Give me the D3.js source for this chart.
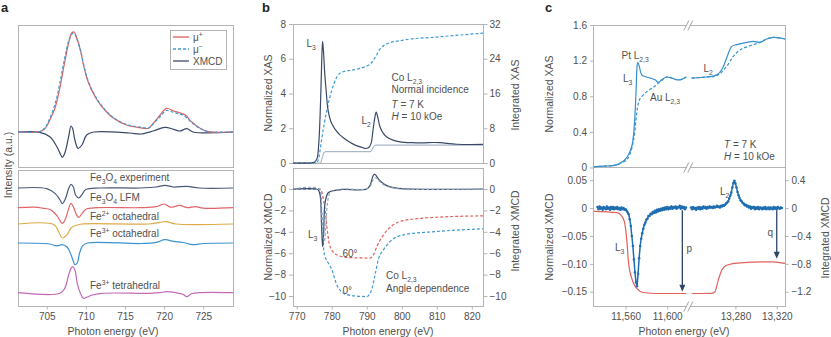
<!DOCTYPE html>
<html><head><meta charset="utf-8">
<script src="https://cdn.jsdelivr.net/npm/d3@7"></script>
<style>
body{margin:0;background:#fff;}
svg text{font-family:"Liberation Sans",Arial,Helvetica,sans-serif;}
</style></head><body>
<svg id="chart" width="831" height="337"></svg>
<script>
// ---------------- DATA ----------------
// Panel a (upper): XAS mu+, mu- and XMCD  [energy eV, intensity a.u.]
const aMuPlus = [[701.33,0],[704.1,0.003],[704.8,0.037],[705.4,0.12],[706.1,0.25],[706.7,0.45],[707.3,0.70],[707.8,0.89],[708.2,0.99],[708.5,1.0],[708.8,0.95],[709.3,0.82],[709.7,0.67],[710.3,0.50],[711.2,0.35],[712.2,0.24],[713.5,0.14],[715.2,0.07],[716.9,0.043],[718,0.037],[718.6,0.087],[719.5,0.17],[720.3,0.237],[721.2,0.21],[722,0.193],[722.7,0.17],[723.5,0.103],[724.6,0.037],[725.6,0.003],[728.8,0]];
const aMuMinus = [[701.33,0],[704.1,0.005],[704.8,0.045],[705.4,0.14],[706.1,0.29],[706.7,0.50],[707.3,0.74],[707.8,0.91],[708.2,0.98],[708.5,0.985],[708.8,0.94],[709.3,0.82],[709.7,0.68],[710.3,0.51],[711.2,0.36],[712.2,0.245],[713.5,0.145],[715.2,0.075],[716.9,0.05],[718,0.04],[718.6,0.08],[719.5,0.155],[720.3,0.215],[721.2,0.195],[722,0.18],[722.7,0.155],[723.5,0.095],[724.6,0.035],[725.6,0.005],[728.8,0]];
const aXmcd = [[701.33,0],[704.1,-0.003],[705.4,-0.047],[706.3,-0.147],[706.8,-0.23],[707.0,-0.253],[707.3,-0.213],[707.8,-0.047],[708.1,0.06],[708.3,0.037],[708.6,-0.08],[709.0,-0.163],[709.5,-0.13],[710.1,-0.03],[711,0],[715.6,-0.01],[717,-0.02],[718.6,0.01],[720.1,0.047],[721.2,0.027],[722,0.01],[722.9,0.033],[723.7,0],[728.8,0]];
// Panel a (lower): XMCD spectra (relative to each baseline)
const aExp = [[701.33,0],[705,-0.006],[706.1,-0.056],[706.7,-0.12],[707.0,-0.156],[707.4,-0.106],[707.8,-0.006],[708.1,0.037],[708.4,0.01],[708.7,-0.073],[709.1,-0.1],[709.5,-0.066],[710,-0.016],[711.8,0],[716.9,0],[719,0.01],[720.1,0.027],[721.2,0.01],[722.9,0.017],[724.5,0],[728.8,0]];
const aLfm = [[701.33,0],[703.5,0.005],[704.5,-0.005],[705.5,-0.02],[706.3,-0.08],[707.0,-0.157],[707.4,-0.11],[707.8,-0.01],[708.1,0.043],[708.4,0.01],[708.8,-0.07],[709.1,-0.097],[709.5,-0.06],[710,-0.015],[711.5,0],[717,0],[719,0.01],[720,0.037],[720.8,0.005],[722,0.023],[723,0.0],[724,0.01],[725,-0.005],[728.8,0]];
const aFe2Oct = [[701.33,0],[705.9,-0.005],[706.5,-0.073],[707.0,-0.14],[707.6,-0.107],[708.1,-0.04],[708.6,-0.017],[709.5,0],[718,0],[719.5,0.017],[720.3,0.023],[721.5,0],[728.8,0]];
const aFe3Oct = [[701.33,0],[705.4,-0.01],[706.1,-0.027],[706.5,-0.027],[706.9,-0.017],[707.6,-0.04],[708.1,-0.117],[708.4,-0.183],[708.6,-0.217],[708.9,-0.2],[709.2,-0.1],[709.6,-0.027],[710.2,0],[717,-0.005],[719,0.007],[720.1,0.033],[721.2,0.017],[722.4,0.005],[723.7,-0.017],[725,-0.005],[728.8,0]];
const aFe3Tet = [[701.33,0],[706.7,-0.006],[707.3,0.043],[707.8,0.177],[708.1,0.243],[708.3,0.26],[708.6,0.227],[708.9,0.093],[709.3,-0.006],[709.7,-0.056],[710.1,-0.046],[710.8,-0.023],[712,-0.006],[718.2,-0.006],[719.5,0],[720.3,0.01],[721.5,0],[722.4,-0.016],[722.9,-0.04],[723.5,-0.01],[724.5,0],[728.8,0]];
const aBaselines = [1.18, 0.983, 0.82, 0.63, 0.133];
const aTicks = [705, 710, 715, 720, 725];

// Panel b (upper): Co L2,3 XAS, step, integrated XAS
const bXas = [[768.95,0],[774,0],[775,0.04],[775.8,0.25],[776.3,1.1],[776.7,2.8],[777.0,4.8],[777.2,6.2],[777.4,7.0],[777.7,6.3],[778.0,5.2],[778.4,4.2],[779.0,3.0],[780,2.27],[781.9,1.7],[784.3,1.31],[786.7,1.03],[788.6,0.9],[789.5,0.84],[790.5,0.88],[791.2,1.1],[791.8,1.9],[792.3,2.6],[792.7,2.93],[793.2,2.6],[793.8,2.07],[794.6,1.75],[795.7,1.5],[797.5,1.32],[799.5,1.22],[803,1.17],[806,1.16],[809,1.18],[811,1.17],[815.7,1.08],[823.2,1.07]];
const bStep = [[768.95,0],[776.8,0],[777.3,0.3],[777.8,0.6],[778.3,0.65],[791,0.65],[791.5,0.75],[792,0.95],[792.5,1.03],[823.2,1.03]];
const bIntXas = [[768.95,0],[775.7,0],[776.4,1.5],[777.1,5.3],[778.6,12.1],[780,16.7],[781.4,19.7],[782.9,20.9],[787.1,21.6],[791,22.8],[792.4,24.3],[793.8,26.2],[795.7,27.4],[800.5,28.3],[810,29.0],[823.2,29.9]];
// Panel b (lower): XMCD and integrated XMCD at 0 and 60 degrees
const bXmcd = [[768.95,0],[775.5,0],[776.2,-0.1],[776.7,-0.6],[777.1,-3.4],[777.4,-5.4],[777.7,-4.2],[778.1,-1.3],[779,-0.35],[780.5,-0.15],[783,-0.05],[790,0],[791,0.37],[791.9,1.3],[792.4,1.35],[793.3,0.95],[794.8,0.5],[796.7,0.2],[800,0.03],[823.2,0]];
const bXmcd60 = [[768.95,0],[776.3,0],[777.0,-1.8],[777.5,-4.2],[777.9,-4.9],[778.3,-3.5],[778.8,-1.3],[779.5,-0.4],[781,-0.1],[783,0],[790,0],[791,0.25],[791.9,0.9],[792.6,1.05],[793.4,0.8],[794.8,0.4],[796.7,0.15],[800,0],[823.2,0]];
const bInt0 = [[768.95,0],[776.5,0],[777,-1.2],[777.3,-3.0],[777.6,-5.2],[778,-6.2],[779,-6.9],[780,-7.5],[781.4,-8.9],[782.8,-9.6],[784.3,-9.86],[787,-10.0],[790,-10.05],[791.4,-9.4],[792.4,-8.0],[793.3,-6.6],[794.8,-5.67],[796.7,-4.9],[800.5,-4.28],[810,-3.97],[823.2,-3.72]];
const bInt60 = [[768.95,0],[776.8,0],[777.4,-0.6],[778.1,-1.95],[778.8,-4.0],[779.5,-5.37],[781.4,-6.14],[784.3,-6.39],[791,-6.45],[792,-6.1],[792.9,-5.37],[794.8,-4.28],[797.6,-3.35],[800.5,-2.95],[810,-2.64],[823.2,-2.51]];
const bTicksX = [770, 780, 790, 800, 810, 820];
const bTicksTopL = [0, 2, 4, 6, 8];
const bTicksTopR = [0, 8, 16, 24, 32];
const bTicksBot = [-10, -8, -6, -4, -2, 0];

// Panel c (upper): Pt L2,3 XAS (solid) and Au L2,3 (dashed)
const cXasL = [[11529.5,0.01],[11540,0.015],[11551.5,0.03],[11555,0.05],[11559.4,0.087],[11562.6,0.14],[11565.9,0.236],[11567.5,0.35],[11569.1,0.61],[11570.1,0.87],[11571,1.13],[11571.6,1.18],[11573.2,1.135],[11575.5,1.04],[11580.3,1.016],[11588.3,0.985],[11591.4,0.955],[11594.7,0.985],[11599.5,1.016],[11604.3,1.005],[11609.1,0.985],[11613.9,0.99],[11618.3,1.016]];
const cAuL = [[11529.5,0.01],[11540,0.015],[11551.5,0.03],[11561,0.087],[11564.5,0.16],[11567.7,0.31],[11570.7,0.61],[11572.2,0.72],[11573.8,0.77],[11580.3,0.85],[11588.3,0.915],[11593.1,0.965],[11596.2,0.99],[11599.5,1.016],[11604.3,1.005],[11609.1,0.985],[11613.9,0.99],[11618.3,1.016]];
const cXasR = [[13237.6,1.004],[13252.2,1.016],[13261.9,1.04],[13266.7,1.098],[13271.5,1.23],[13276.4,1.36],[13281.2,1.38],[13290.9,1.405],[13297.3,1.416],[13303.8,1.405],[13310.3,1.443],[13316.7,1.46],[13328,1.443]];
const cAuR = [[13237.6,1.004],[13252.2,1.016],[13261.9,1.03],[13271.5,1.135],[13277.9,1.247],[13284.4,1.32],[13294.1,1.367],[13303.8,1.405],[13310.3,1.443],[13316.7,1.46],[13328,1.443]];
// Panel c (lower): XMCD (1 eV grid) and integrated XMCD
const cXmcdStartL = 11533;
const cXmcdL = [0.002,-0.002,0.003,-0.001,0.001,-0.003,0.002,0.000,-0.002,0.003,-0.001,0.001,-0.003,0.002,-0.001,0.002,-0.002,0.001,-0.001,0.002,-0.002,0.000,-0.003,0.001,-0.002,0.000,-0.003,-0.002,-0.005,-0.008,-0.011,-0.020,-0.032,-0.050,-0.068,-0.092,-0.115,-0.133,-0.140,-0.118,-0.090,-0.068,-0.055,-0.045,-0.037,-0.030,-0.026,-0.021,-0.019,-0.014,-0.014,-0.010,-0.011,-0.007,-0.009,-0.005,-0.008,-0.003,-0.006,-0.002,-0.005,-0.001,-0.004,0.000,-0.003,0.001,-0.002,0.002,-0.002,0.001,-0.001,0.003,-0.001,0.002,0.000,0.003,-0.001,0.002,0.001,0.004,-0.001,0.003,0.000,0.002,-0.002,0.001];
const cXmcdStartR = 13237;
const cXmcdR = [0.001,-0.002,0.002,-0.001,0.000,-0.003,0.001,-0.001,0.002,-0.002,0.001,-0.001,0.003,0.000,0.002,-0.001,0.002,0.000,0.003,0.001,0.002,0.000,0.003,0.001,0.002,0.004,0.002,0.003,0.001,0.004,0.003,0.005,0.004,0.006,0.008,0.010,0.012,0.017,0.022,0.028,0.037,0.045,0.049,0.044,0.037,0.029,0.023,0.018,0.014,0.012,0.009,0.008,0.005,0.006,0.003,0.004,0.001,0.003,-0.001,0.002,0.000,0.002,-0.002,0.001,-0.001,0.002,-0.002,0.001,0.000,-0.002,0.001,-0.001,0.002,-0.002,0.000,0.001,-0.002,0.001,0.000,-0.002,0.002,-0.001,0.001,-0.002,0.002,0.000,-0.001,0.001,0.000];
const cIntL = [[11529.5,-0.047],[11551.5,-0.066],[11557.8,-0.151],[11560.4,-0.343],[11561.7,-0.557],[11562.6,-0.747],[11565.9,-1.009],[11570.7,-1.151],[11577,-1.21],[11589.9,-1.225],[11618.3,-1.225]];
const cIntR = [[13237.6,-1.225],[13257,-1.223],[13260.2,-1.2],[13263.4,-1.033],[13266.7,-0.89],[13271.5,-0.819],[13284.4,-0.786],[13316.4,-0.771],[13328,-0.794]];
const cArrowP = [11614.5, -0.004, -0.150];   // energy, from, to (normalized XMCD)
const cArrowQ = [13320, -0.004, -0.091];
const cTicksX = [11560, 11600, 13280, 13320];
const cTickLabelsX = ["11,560", "11,600", "13,280", "13,320"];
const cTicksTop = [0, 0.4, 0.8, 1.2, 1.6];
const cTickLabelsTop = ["0", "0.4", "0.8", "1.2", "1.6"];
const cTicksBotL = [0.05, 0, -0.05, -0.10, -0.15];
const cTickLabelsBotL = ["0.05", "0", "\u22120.05", "\u22120.10", "\u22120.15"];
const cTicksBotR = [0.4, 0, -0.4, -0.8, -1.2];
const cTickLabelsBotR = ["0.4", "0", "\u22120.4", "\u22120.8", "\u22121.2"];

// ---------------- DRAWING ----------------
const svg = d3.select("#chart");
const FONT = '"Liberation Sans",Arial,Helvetica,sans-serif';
const FRAME = "#b4b4b4", TXT = "#505050";
const RED = "#e1605b", BLUE = "#3f9bd6", NAVY = "#3b4969", STEP = "#aab7c6";
const CBLUE = "#3590cc", CXMCD = "#1f6db0", ARROW = "#2c4668";

function box(x0, y0, x1, y1) {
  svg.append("rect").attr("x", x0 + 0.5).attr("y", y0 + 0.5).attr("width", x1 - x0).attr("height", y1 - y0)
    .attr("fill", "none").attr("stroke", FRAME).attr("stroke-width", 1);
}
const smooth = d3.curveCatmullRom.alpha(0.5);
function draw(data, x, y, color, o = {}) {
  const line = d3.line().x(d => x(d[0])).y(d => y(d[1])).curve(o.curve || smooth);
  svg.append("path").datum(data).attr("d", line).attr("fill", "none")
    .attr("stroke", color).attr("stroke-width", o.w || 1.2)
    .attr("stroke-dasharray", o.dash || null).attr("stroke-linejoin", "round");
}
function styleAxis(g, labels) {
  g.attr("font-family", FONT).attr("font-size", 10);
  g.select(".domain").remove();
  g.selectAll(".tick line").attr("stroke", FRAME);
  g.selectAll(".tick text").attr("fill", TXT);
  if (labels) g.selectAll(".tick text").text((d, i) => labels[i]);
}
function axis(gen, tx, ty, labels) {
  const g = svg.append("g").attr("transform", `translate(${tx},${ty})`).call(gen);
  styleAxis(g, labels);
  return g;
}
function rich(x, y, parts, size = 10, anchor = "start", color = TXT) {
  const t = svg.append("text").attr("x", x).attr("y", y).attr("font-size", size)
    .attr("fill", color).attr("text-anchor", anchor).attr("font-family", FONT);
  let shift = 0;
  parts.forEach(p => {
    const s = typeof p === "string" ? { t: p } : p;
    const target = s.sub ? size * 0.3 : (s.sup ? -size * 0.4 : 0);
    const ts = t.append("tspan").text(s.t).attr("dy", target - shift);
    if (s.sub || s.sup) ts.attr("font-size", size * 0.68);
    if (s.i) ts.attr("font-style", "italic");
    shift = target;
  });
  return t;
}
function vtitle(x, y, text) {
  svg.append("text").attr("transform", `translate(${x},${y}) rotate(-90)`)
    .attr("text-anchor", "middle").attr("dominant-baseline", "central")
    .attr("font-size", 10.5).attr("fill", TXT).attr("font-family", FONT).text(text);
}
function htitle(x, y, text) {
  svg.append("text").attr("x", x).attr("y", y).attr("text-anchor", "middle")
    .attr("font-size", 10.5).attr("fill", TXT).attr("font-family", FONT).text(text);
}
function letter(x, y, t) {
  svg.append("text").attr("x", x).attr("y", y).attr("font-size", 13).attr("font-weight", "bold")
    .attr("fill", "#222").attr("font-family", FONT).text(t);
}

// ===== Panel a =====
const xa = d3.scaleLinear().domain([701.33, 728.8]).range([18, 233]);
const yaT = d3.scaleLinear().domain([-0.35, 1.07]).range([167, 25]);
const yaB = d3.scaleLinear().domain([0, 1.36]).range([306, 170]);
box(18, 25, 233, 167);
box(18, 170, 233, 306);
draw(aXmcd, xa, yaT, NAVY);
draw(aMuPlus, xa, yaT, RED);
draw(aMuMinus, xa, yaT, BLUE, { dash: "3,2" });
const aSeries = [aExp, aLfm, aFe2Oct, aFe3Oct, aFe3Tet];
const aColors = ["#4b5a7b", "#e0646a", "#dcaa48", "#3a93d0", "#c468b6"];
aSeries.forEach((s, i) => draw(s.map(d => [d[0], d[1] + aBaselines[i]]), xa, yaB, aColors[i]));
axis(d3.axisBottom(xa).tickValues(aTicks).tickSize(3).tickPadding(3), 0, 306.5);
// legend
svg.append("rect").attr("x", 170.5).attr("y", 30.5).attr("width", 56).attr("height", 39)
  .attr("fill", "#fff").attr("stroke", FRAME);
const legY = [37, 49, 61];
[[RED, null], [BLUE, "3,2"], [NAVY, null]].forEach((c, i) => {
  svg.append("line").attr("x1", 173).attr("x2", 189).attr("y1", legY[i]).attr("y2", legY[i])
    .attr("stroke", c[0]).attr("stroke-width", 1.3).attr("stroke-dasharray", c[1]);
});
rich(193, legY[0] + 3.5, ["\u03bc", { t: "+", sup: true }]);
rich(193, legY[1] + 3.5, ["\u03bc", { t: "\u2212", sup: true }]);
rich(193, legY[2] + 3.5, ["XMCD"]);
// labels
const S = 10;
rich(90, 180.5, ["Fe", { t: "3", sub: true }, "O", { t: "4", sub: true }, " experiment"], S);
rich(90, 200.5, ["Fe", { t: "3", sub: true }, "O", { t: "4", sub: true }, " LFM"], S);
rich(90, 220, ["Fe", { t: "2+", sup: true }, " octahedral"], S);
rich(90, 236.5, ["Fe", { t: "3+", sup: true }, " octahedral"], S);
rich(90, 289, ["Fe", { t: "3+", sup: true }, " tetrahedral"], S);
vtitle(8, 165, "Intensity (a.u.)");
htitle(113, 335, "Photon energy (eV)");
letter(1, 12, "a");

// ===== Panel b =====
const xb = d3.scaleLinear().domain([768.95, 823.2]).range([293, 483]);
const ybT = d3.scaleLinear().domain([0, 8]).range([163, 24]);
const ybTR = d3.scaleLinear().domain([0, 32]).range([163, 24]);
const ybB = d3.scaleLinear().domain([-10.93, 1.96]).range([306, 168]);
box(293, 24, 483, 163);
box(293, 168, 483, 306);
draw(bStep, xb, ybT, STEP, { curve: d3.curveMonotoneX });
draw(bIntXas, xb, ybTR, BLUE, { dash: "3,2", curve: d3.curveMonotoneX });
draw(bXas, xb, ybT, NAVY);
draw(bInt60, xb, ybB, RED, { dash: "3,2", curve: d3.curveMonotoneX });
draw(bInt0, xb, ybB, BLUE, { dash: "3,2", curve: d3.curveMonotoneX });
draw(bXmcd, xb, ybB, NAVY);
draw(bXmcd60, xb, ybB, "#8fa6bd", { dash: "3,2" });
axis(d3.axisLeft(ybT).tickValues(bTicksTopL).tickSize(4).tickPadding(3), 293, 0);
axis(d3.axisRight(ybTR).tickValues(bTicksTopR).tickSize(4).tickPadding(2), 483.5, 0);
axis(d3.axisLeft(ybB).tickValues(bTicksBot).tickSize(4).tickPadding(3), 293, 0);
axis(d3.axisRight(ybB).tickValues(bTicksBot).tickSize(4).tickPadding(2), 483.5, 0);
axis(d3.axisBottom(xb).tickValues(bTicksX).tickSize(3).tickPadding(3), 0, 306.5);
rich(306.5, 46.5, ["L", { t: "3", sub: true }]);
rich(361.5, 123.5, ["L", { t: "2", sub: true }]);
rich(391.5, 80.5, ["Co L", { t: "2,3", sub: true }]);
rich(391.5, 92.5, ["Normal incidence"]);
rich(391.5, 107.5, [{ t: "T", i: true }, " = 7 K"]);
rich(391.5, 119.5, [{ t: "H", i: true }, " = 10 kOe"]);
rich(308, 237.5, ["L", { t: "3", sub: true }]);
rich(342.5, 256.5, ["60\u00b0"]);
rich(342.5, 293.5, ["0\u00b0"]);
rich(386, 278.5, ["Co L", { t: "2,3", sub: true }]);
rich(386, 291.5, ["Angle dependence"]);
vtitle(268, 93, "Normalized XAS");
vtitle(268, 237, "Normalized XMCD");
vtitle(515, 95, "Integrated XAS");
vtitle(515, 231, "Integrated XMCD");
htitle(388, 335, "Photon energy (eV)");
letter(262, 12, "b");

// ===== Panel c =====
const xc = d3.scaleLinear().domain([11529, 11618.5, 13236, 13328]).range([593.3, 686.5, 690, 785]);
const ycT = d3.scaleLinear().domain([0, 1.6]).range([167.5, 25]);
const ycB = d3.scaleLinear().domain([-0.1755, 0.0727]).range([306, 167.5]);
const ycBR = d3.scaleLinear().domain([-1.404, 0.5816]).range([306, 167.5]);
box(593, 25, 785, 167);
box(593, 167, 785, 306);
draw(cAuL, xc, ycT, CBLUE, { dash: "3,2" });
draw(cAuR, xc, ycT, CBLUE, { dash: "3,2" });
draw(cXasL, xc, ycT, CBLUE);
draw(cXasR, xc, ycT, CBLUE);
draw(cIntL, xc, ycBR, RED, { curve: d3.curveMonotoneX });
draw(cIntR, xc, ycBR, RED, { curve: d3.curveMonotoneX });
const xmL = cXmcdL.map((v, i) => [cXmcdStartL + i, v]);
const xmR = cXmcdR.map((v, i) => [cXmcdStartR + i, v]);
[xmL, xmR].forEach(arr => {
  draw(arr, xc, ycB, CXMCD, { curve: d3.curveLinear, w: 1.5 });
  svg.append("g").selectAll("circle").data(arr).join("circle")
    .attr("cx", d => xc(d[0])).attr("cy", d => ycB(d[1])).attr("r", 1.25).attr("fill", CXMCD);
});
// arrows
[cArrowP, cArrowQ].forEach(a => {
  const x = xc(a[0]), y0 = ycB(a[1]), y1 = ycB(a[2]);
  svg.append("line").attr("x1", x).attr("x2", x).attr("y1", y0).attr("y2", y1 - 5)
    .attr("stroke", ARROW).attr("stroke-width", 1.3);
  svg.append("path").attr("d", `M${x - 3},${y1 - 7}L${x + 3},${y1 - 7}L${x},${y1}Z`).attr("fill", ARROW);
});
// break marks
function breakMark(x, y) {
  svg.append("rect").attr("x", x - 2).attr("y", y - 1.5).attr("width", 4).attr("height", 3).attr("fill", "#fff");
  [-2, 2].forEach(o => svg.append("line").attr("x1", x + o - 2.5).attr("y1", y + 5).attr("x2", x + o + 2.5).attr("y2", y - 5)
    .attr("stroke", "#999").attr("stroke-width", 0.9));
}
breakMark(688.3, 25.5); breakMark(688.3, 167.5); breakMark(688.3, 306.5);
axis(d3.axisLeft(ycT).tickValues(cTicksTop).tickSize(3).tickPadding(3), 593, 0, cTickLabelsTop);
axis(d3.axisLeft(ycB).tickValues(cTicksBotL).tickSize(3).tickPadding(3), 593, 0, cTickLabelsBotL);
axis(d3.axisRight(ycBR).tickValues(cTicksBotR).tickSize(3).tickPadding(3), 785.5, 0, cTickLabelsBotR);
axis(d3.axisBottom(xc).tickValues(cTicksX).tickSize(3).tickPadding(3), 0, 306.5, cTickLabelsX);
rich(621.5, 58.5, ["Pt L", { t: "2,3", sub: true }]);
rich(623, 81.5, ["L", { t: "3", sub: true }]);
rich(650, 100.5, ["Au L", { t: "2,3", sub: true }]);
rich(703.5, 71.5, ["L", { t: "2", sub: true }]);
rich(724, 147.5, [{ t: "T", i: true }, " = 7 K"]);
rich(724, 159.5, [{ t: "H", i: true }, " = 10 kOe"]);
rich(615, 250.5, ["L", { t: "3", sub: true }]);
rich(720, 195, ["L", { t: "2", sub: true }]);
rich(686.5, 251.5, ["p"]);
rich(767.5, 236, ["q"]);
vtitle(549, 94, "Normalized XAS");
vtitle(549, 237, "Normalized XMCD");
vtitle(825, 238, "Integrated XMCD");
htitle(684, 335, "Photon energy (eV)");
letter(545, 12, "c");
</script></body></html>
